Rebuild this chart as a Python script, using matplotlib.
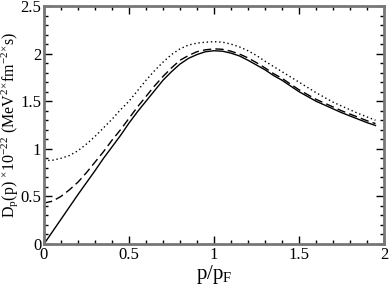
import matplotlib
matplotlib.use("Agg")
import matplotlib.pyplot as plt
from matplotlib.ticker import MultipleLocator, FuncFormatter

# p/p_F grid and the three D_p curves
p_ratio = [0.0, 0.05, 0.1, 0.15, 0.2, 0.25, 0.3, 0.35, 0.4, 0.45, 0.5, 0.55, 0.6,
           0.65, 0.7, 0.75, 0.8, 0.85, 0.9, 0.95, 1.0, 1.05, 1.1, 1.15, 1.2, 1.25,
           1.3, 1.35, 1.4, 1.45, 1.5, 1.55, 1.6, 1.65, 1.7, 1.75, 1.8, 1.85, 1.9, 1.95]
d_solid = [0.0, 0.13, 0.26, 0.39, 0.52, 0.645, 0.77, 0.9, 1.02, 1.14, 1.27, 1.39,
           1.5, 1.61, 1.72, 1.81, 1.89, 1.95, 1.99, 2.02, 2.03, 2.025, 2.005, 1.975, 1.93,
           1.88, 1.83, 1.77, 1.72, 1.66, 1.6, 1.55, 1.5, 1.46, 1.42, 1.38, 1.345, 1.31,
           1.275, 1.245]
d_dashed = [0.43, 0.45, 0.5, 0.57, 0.65, 0.75, 0.86, 0.97, 1.09, 1.2, 1.32, 1.44,
            1.55, 1.66, 1.76, 1.85, 1.93, 1.98, 2.02, 2.04, 2.05, 2.045, 2.025, 1.995, 1.955,
            1.905, 1.85, 1.79, 1.74, 1.68, 1.62, 1.57, 1.52, 1.48, 1.44, 1.4, 1.365, 1.33,
            1.295, 1.265]
d_dotted = [0.875, 0.88, 0.9, 0.93, 0.98, 1.05, 1.13, 1.22, 1.31, 1.41, 1.5, 1.61,
            1.72, 1.82, 1.91, 1.99, 2.05, 2.09, 2.11, 2.12, 2.125, 2.12, 2.1, 2.07, 2.03,
            1.98, 1.92, 1.865, 1.81, 1.755, 1.7, 1.645, 1.59, 1.54, 1.49, 1.45, 1.41, 1.37,
            1.335, 1.3]

x_ticks = [0, 0.5, 1, 1.5, 2]
y_ticks = [0, 0.5, 1, 1.5, 2, 2.5]

plt.rcParams['font.family'] = ['Liberation Serif', 'DejaVu Serif']
plt.rcParams['mathtext.fontset'] = 'custom'
plt.rcParams['mathtext.rm'] = 'Liberation Serif'
plt.rcParams['mathtext.it'] = 'Liberation Serif'

fig = plt.figure(figsize=(3.89, 2.85), dpi=100)
ax = fig.add_axes([44 / 389, 41 / 285, 340 / 389, 238 / 285])

ax.plot(p_ratio, d_solid, color='black', lw=1.0, ls='-')
ax.plot(p_ratio, d_dashed, color='black', lw=1.0, ls=(0, (6, 3)))
ax.plot(p_ratio, d_dotted, color='black', lw=1.0, ls=(0, (1, 2)))

ax.set_xlim(0, 2)
ax.set_ylim(0, 2.5)
ax.set_xticks(x_ticks)
ax.set_yticks(y_ticks)
ax.xaxis.set_minor_locator(MultipleLocator(0.1))
ax.yaxis.set_minor_locator(MultipleLocator(0.1))
fmt = FuncFormatter(lambda v, pos: f"{v:g}")
ax.xaxis.set_major_formatter(fmt)
ax.yaxis.set_major_formatter(fmt)

ax.tick_params(which='both', direction='in', top=True, right=True, color='black')
ax.tick_params(which='major', length=6, width=1, labelsize=12, pad=2)
ax.tick_params(which='minor', length=3, width=1)
for s in ax.spines.values():
    s.set_color('#777777')
    s.set_linewidth(2)

ax.set_xlabel(r'p/p$_\mathrm{F}$', fontsize=15, labelpad=0)
ax.set_ylabel(r'D$_\mathrm{p}$(p) $^{\times}$10$^{-22}$ (MeV$^2$$^{\times}$fm$^{-2}$$^{\times}$s)',
              fontsize=11.5)
ax.yaxis.set_label_coords(-0.07, 0.5)

fig.savefig('out.png', dpi=100)
